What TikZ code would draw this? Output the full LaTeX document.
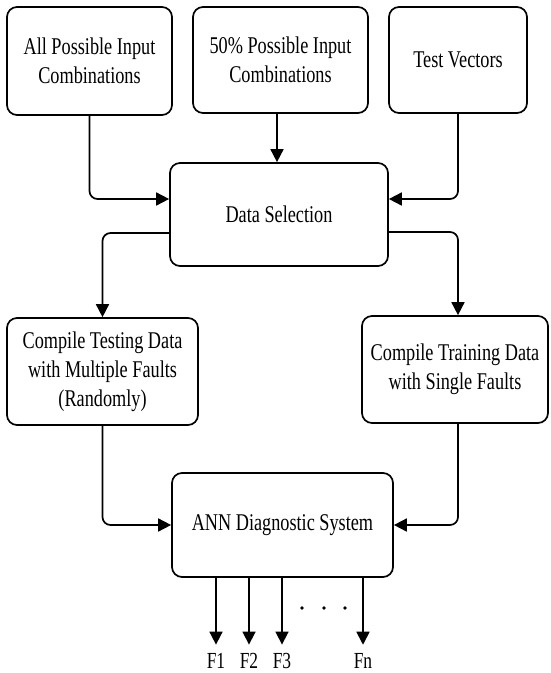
\documentclass[tikz,border=0pt]{standalone}
\usepackage{fontspec}
\setmainfont{Liberation Serif}[FakeStretch=0.76]
\usetikzlibrary{arrows.meta}
\begin{document}
\begin{tikzpicture}[x=1pt,y=-1pt,
  box/.style={draw, line width=1.7pt, rounded corners=10pt, align=center,
    font=\fontsize{24}{29}\selectfont, inner sep=0pt},
  arr/.style={line width=1.7pt, rounded corners=8pt, -{Triangle[length=13pt,width=13pt]}},
  lbl/.style={font=\fontsize{23}{26}\selectfont, inner sep=0pt, anchor=base}]
\useasboundingbox (0,0) rectangle (550,673);
\node[box, minimum width=165pt, minimum height=108pt] (b1) at (89.5,61) {All Possible Input\\Combinations};
\node[box, minimum width=175pt, minimum height=106pt] (b2) at (280.5,60) {50\% Possible Input\\Combinations};
\node[box, minimum width=138pt, minimum height=106pt] (b3) at (458,60) {Test Vectors};
\node[box, minimum width=218pt, minimum height=103pt] (ds) at (279,214.5) {Data Selection};
\node[box, minimum width=191pt, minimum height=107pt] (test) at (102.5,371.5) {Compile Testing Data\\with Multiple Faults\\(Randomly)};
\node[box, minimum width=186pt, minimum height=107pt] (train) at (455,369.5) {Compile Training Data\\with Single Faults};
\node[box, minimum width=221pt, minimum height=104pt] (ann) at (282.5,525) {ANN Diagnostic System};

\draw[arr] (b1.south) |- ([yshift=15.5pt]ds.west);
\draw[arr] ([xshift=-3.5pt]b2.south) -- ([xshift=-3.5pt]b2.south |- ds.north);
\draw[arr] (b3.south) |- ([yshift=15.5pt]ds.east);
\draw[arr] ([yshift=-18.5pt]ds.west) -| (test.north);
\draw[arr] ([yshift=-17.5pt]ds.east) -| ([xshift=3pt]train.north);
\draw[arr] (test.south) |- (ann.west);
\draw[arr] ([xshift=3pt]train.south) |- (ann.east);

\node[lbl] (f1) at (216,668) {F1};
\node[lbl] (f2) at (249,668) {F2};
\node[lbl] (f3) at (282,668) {F3};
\node[lbl] (fn) at (363,668) {Fn};
\foreach \f in {f1,f2,f3,fn}
  \draw[arr] (ann.south -| \f) -- ([yshift=8pt]\f.north);
\foreach \x in {302,324,345}
  \fill (\x,608) circle (1.8pt);
\end{tikzpicture}
\end{document}
